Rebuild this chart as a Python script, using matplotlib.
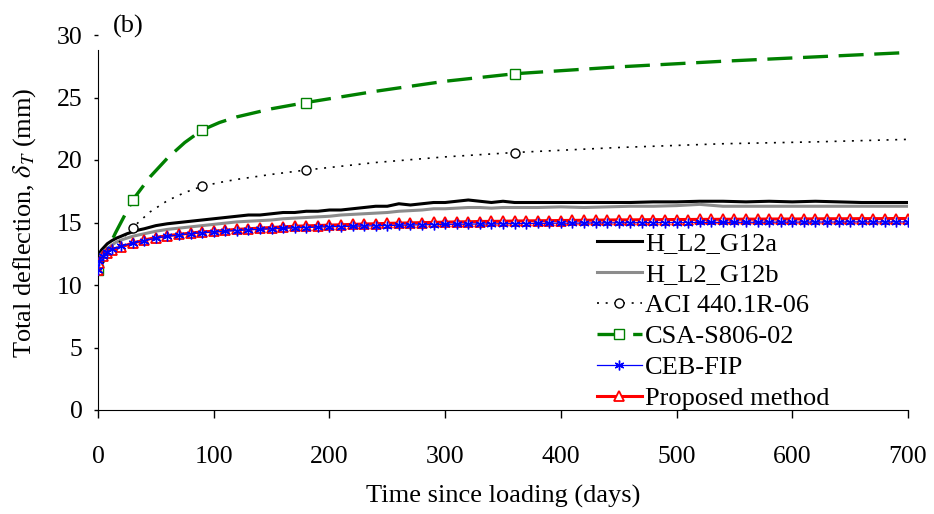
import matplotlib
matplotlib.use("Agg")
import matplotlib.pyplot as plt

plt.rcParams['font.family'] = ['Liberation Serif', 'DejaVu Serif']
plt.rcParams['mathtext.fontset'] = 'stix'

# measured deflections (mm)
t_exp = [0, 1, 3, 5, 8, 12, 16, 20, 25, 30, 35, 40, 50, 60, 70, 80, 90, 100,
         110, 120, 130, 140, 150, 160, 170, 180, 190, 200, 210, 220, 230, 240,
         250, 260, 270, 280, 290, 300, 310, 320, 330, 340, 350, 360, 380, 400,
         420, 440, 460, 480, 500, 520, 540, 560, 580, 600, 620, 640, 660, 680, 700]
g12a = [12.0, 12.5, 12.8, 13.0, 13.3, 13.55, 13.75, 13.9, 14.1, 14.25, 14.4, 14.5,
        14.75, 14.9, 15.0, 15.1, 15.2, 15.3, 15.4, 15.5, 15.6, 15.6, 15.7, 15.8,
        15.8, 15.9, 15.9, 16.0, 16.0, 16.1, 16.2, 16.3, 16.3, 16.5, 16.4, 16.5,
        16.6, 16.6, 16.7, 16.8, 16.7, 16.6, 16.7, 16.6, 16.6, 16.6, 16.6, 16.6,
        16.6, 16.65, 16.65, 16.7, 16.7, 16.65, 16.7, 16.65, 16.7, 16.65, 16.6,
        16.6, 16.6]
g12b = [12.0, 12.3, 12.5, 12.7, 12.9, 13.2, 13.45, 13.6, 13.75, 13.9, 14.0,
        14.1, 14.3, 14.45, 14.55, 14.65, 14.75, 14.85, 14.95, 15.05, 15.1, 15.15,
        15.2, 15.3, 15.35, 15.4, 15.45, 15.5, 15.6, 15.65, 15.7, 15.75, 15.8, 15.9,
        15.95, 16.0, 16.1, 16.1, 16.15, 16.2, 16.2, 16.15, 16.2, 16.2, 16.2, 16.25,
        16.2, 16.25, 16.3, 16.3, 16.35, 16.45, 16.3, 16.3, 16.3, 16.3, 16.3, 16.3,
        16.3, 16.3, 16.3]

# code predictions
t_code = [0, 15, 30, 45, 60, 75, 90, 105, 120, 150, 180, 240, 300, 360, 450,
          540, 620, 700]
aci = [11.2, 13.1, 14.6, 15.85, 16.75, 17.4, 17.9, 18.2, 18.45, 18.85, 19.2,
       19.8, 20.25, 20.6, 21.0, 21.3, 21.45, 21.65]
csa = [11.2, 14.15, 16.8, 18.65, 20.15, 21.4, 22.4, 23.0, 23.45, 24.1, 24.6,
       25.5, 26.3, 26.9, 27.45, 27.9, 28.25, 28.6]
code_marks = [0, 2, 6, 10, 13]

t_mod = [0, 1, 4, 8, 12] + list(range(20, 701, 10))
ceb = [11.2, 11.9, 12.35, 12.65, 12.85,
       13.1, 13.35, 13.55, 13.75, 13.9, 14.0, 14.1, 14.18, 14.24, 14.3,
       14.36, 14.41, 14.45, 14.49, 14.53, 14.57, 14.6, 14.63, 14.66, 14.68,
       14.7, 14.72, 14.74, 14.76, 14.78, 14.8, 14.82, 14.83, 14.85, 14.86,
       14.87, 14.88, 14.89, 14.9, 14.91, 14.92, 14.93, 14.94, 14.95, 14.95,
       14.96, 14.97, 14.97, 14.98, 14.98, 14.99, 14.99, 15.0, 15.0, 15.0,
       15.01, 15.01, 15.01, 15.02, 15.02, 15.02, 15.03, 15.03, 15.03, 15.04,
       15.04, 15.04, 15.04, 15.05, 15.05, 15.05, 15.05, 15.05, 15.05]
proposed = [11.2, 11.8, 12.3, 12.6, 12.8,
            13.05, 13.35, 13.6, 13.8, 13.95, 14.05, 14.15, 14.25, 14.3, 14.38,
            14.45, 14.5, 14.55, 14.6, 14.65, 14.7, 14.73, 14.76, 14.79, 14.82,
            14.85, 14.88, 14.9, 14.93, 14.95, 14.97, 14.99, 15.01, 15.03, 15.05,
            15.06, 15.08, 15.09, 15.1, 15.12, 15.13, 15.14, 15.15, 15.16, 15.17,
            15.18, 15.19, 15.2, 15.21, 15.21, 15.22, 15.23, 15.23, 15.24, 15.24,
            15.25, 15.25, 15.26, 15.26, 15.27, 15.27, 15.28, 15.28, 15.28, 15.29,
            15.29, 15.3, 15.3, 15.3, 15.31, 15.31, 15.31, 15.32, 15.32]

fig = plt.figure(figsize=(9.34, 5.14), dpi=100)
ax = fig.add_axes([98/934, 1-410/514, 810/934, 375/514])

ax.plot(t_exp, g12a, color='black', lw=2.2, label='H_L2_G12a')
ax.plot(t_exp, g12b, color='#8c8c8c', lw=2.2, label='H_L2_G12b')
ax.plot(t_code, aci, color='black', lw=1.2, dashes=(1.2, 4), marker='o',
        ms=6.5, mfc='white', mec='black', mew=1, markevery=code_marks,
        label='ACI 440.1R-06')
ax.plot(t_code, csa, color='#008000', lw=2.4, dashes=(7.5, 3.2), marker='s',
        ms=7.5, mfc='white', mec='#008000', mew=1, markevery=code_marks,
        label='CSA-S806-02')
ax.plot(t_mod, proposed, color='red', lw=2.2, marker='^', ms=7,
        mfc='white', mec='red', mew=1.3, label='Proposed method', zorder=3)
ax.plot(t_mod, ceb, color='blue', lw=0.9, marker=(6, 2, 0), ms=7,
        mec='blue', mew=1, label='CEB-FIP', zorder=4)

ax.set_xlim(0, 700)
ax.set_ylim(0, 30)
ax.set_xticks(range(0, 701, 100))
ax.set_yticks(range(0, 31, 5))
for s in ['top', 'right']:
    ax.spines[s].set_visible(False)
ax.spines['left'].set_bounds(0, 28.8)
ax.tick_params(axis='x', direction='out', length=6, width=1, pad=20, labelsize=18.5)
ax.tick_params(axis='y', direction='out', length=3, width=1, pad=8, labelsize=18.5)

ax.set_xlabel('Time since loading (days)', fontsize=19, labelpad=12)
ax.set_ylabel(r'Total deflection, $\delta_T$ (mm)', fontsize=19, labelpad=14)
fig.text(113/934, 1-33/514, '(b)', fontsize=19)

h, l = ax.get_legend_handles_labels()
order = [0, 1, 2, 3, 5, 4]
ax.legend([h[i] for i in order], [l[i] for i in order], loc='upper left',
          bbox_to_anchor=(597/934, 1-232/514), bbox_transform=fig.transFigure,
          frameon=False, fontsize=19, numpoints=1, handlelength=1.7,
          handletextpad=0.12, labelspacing=0.28, borderpad=0, borderaxespad=0)

fig.savefig('out.png', dpi=100)
